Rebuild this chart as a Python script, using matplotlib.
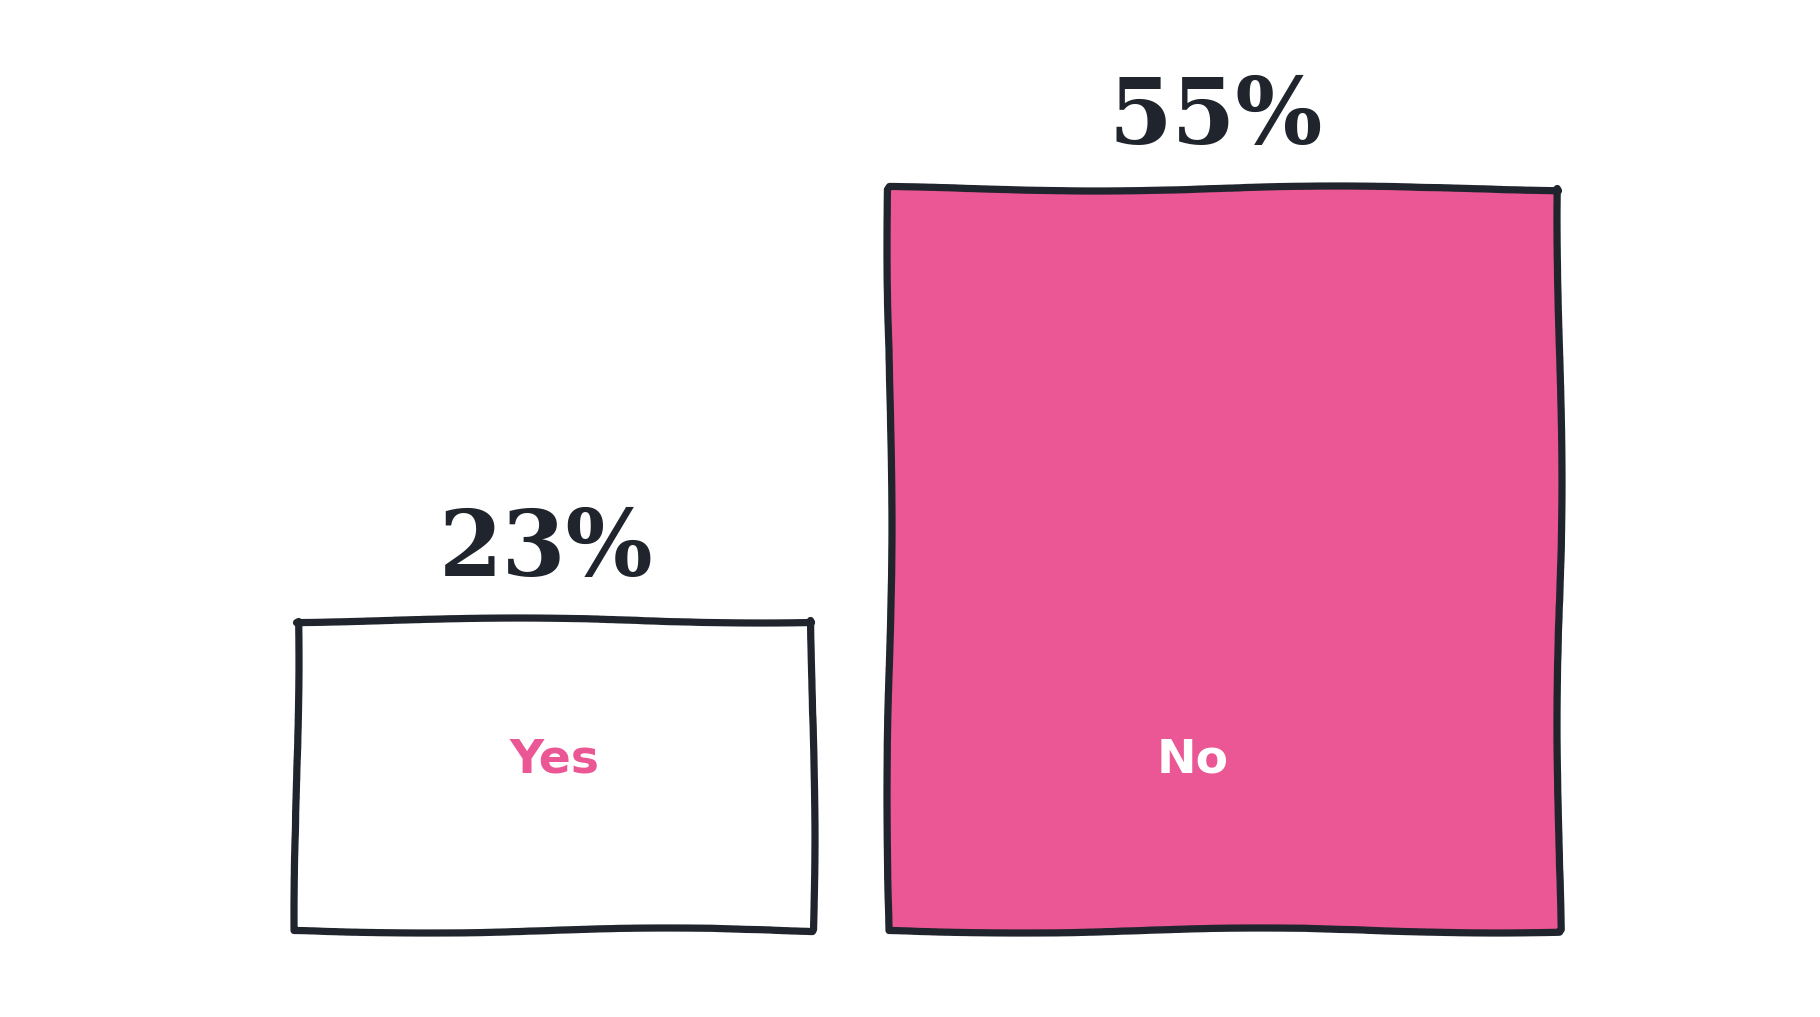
import numpy as np
import matplotlib
matplotlib.use("Agg")
import matplotlib.pyplot as plt

# data
categories = ["Yes", "No"]
values = [23, 55]
value_labels = ["23%", "55%"]

pink = "#EB5694"
ink = "#1F242D"
face_colors = ["white", pink]
inner_text_colors = [pink, "white"]
bar_widths = [0.77, 1.0]
inner_dx = [0.0, -0.047]

fig = plt.figure(figsize=(18.2, 10.17), dpi=100)
ax = fig.add_axes([0, 0, 1, 1])

x = np.arange(len(categories))
bars = ax.bar(x, values, width=bar_widths, color=face_colors,
              edgecolor=ink, linewidth=5.2)
for b in bars:
    b.set_joinstyle("round")
    b.set_capstyle("round")
    b.set_sketch_params(scale=2.5, length=700, randomness=4)

for xi, v, lab in zip(x, values, value_labels):
    ax.annotate(lab, (xi, v), xytext=(-6, 18), textcoords="offset points",
                ha="center", va="bottom", fontsize=66, fontweight="bold",
                family="DejaVu Serif", color=ink)

for xi, cat, c, dx in zip(x, categories, inner_text_colors, inner_dx):
    ax.text(xi + dx, 12.6, cat, ha="center", va="center", fontsize=34,
            fontweight="bold", family="DejaVu Sans", color=c)

ax.set_xlim(-0.827, 1.889)
ax.set_ylim(-6.44, 68.9)
ax.axis("off")

fig.savefig("out.png", dpi=100, facecolor="white")
